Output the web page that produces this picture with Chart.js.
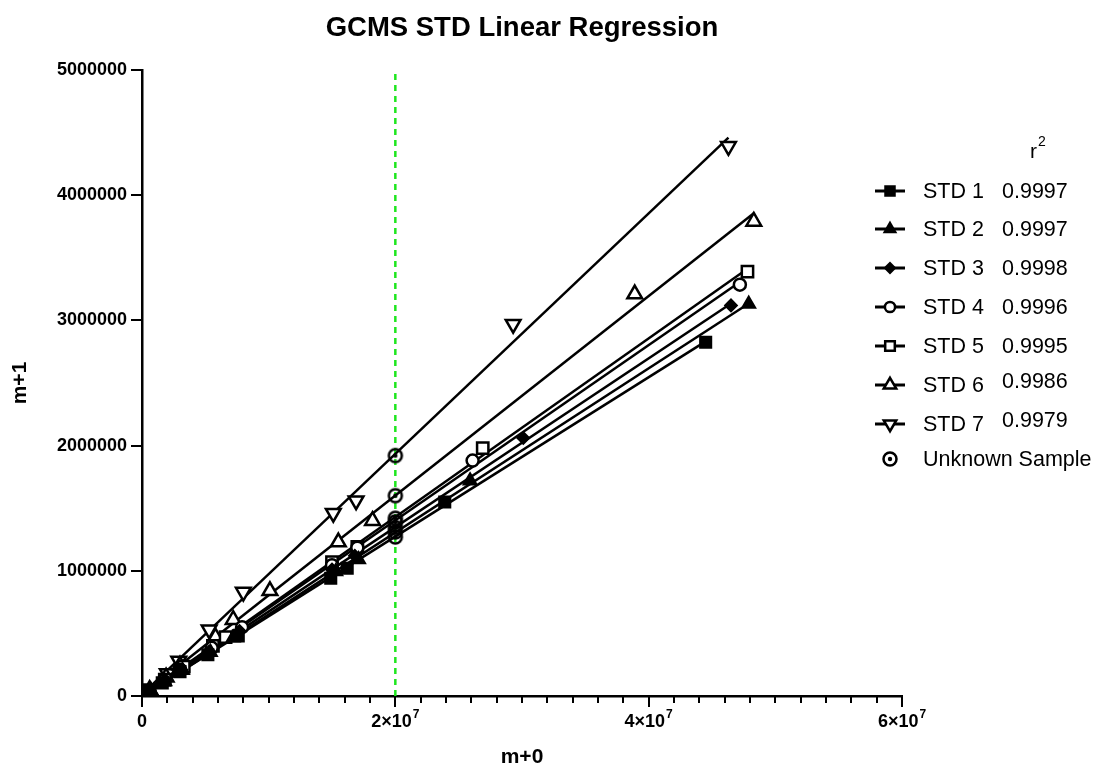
<!DOCTYPE html>
<html>
<head>
<meta charset="utf-8">
<script src="https://cdn.jsdelivr.net/npm/chart.js@4.4.1/dist/chart.umd.min.js"></script>
<style>
html, body { margin: 0; padding: 0; background: #fff; }
</style>
</head>
<body>
<canvas id="myChart" width="1112" height="771"></canvas>
<script>
// values
const seriesNames = ['STD 1', 'STD 2', 'STD 3', 'STD 4', 'STD 5', 'STD 6', 'STD 7']
const rSquared = ['0.9997', '0.9997', '0.9998', '0.9996', '0.9995', '0.9986', '0.9979']

const std1X = [0.6e6, 1.6e6, 3.0e6, 5.2e6, 7.6e6, 1.49e7, 1.62e7, 2.39e7, 4.45e7]
const std1Y = [40000, 105000, 195000, 330000, 480000, 940000, 1020000, 1550000, 2825000]
const std2X = [0.7e6, 1.8e6, 3.2e6, 5.4e6, 7.2e6, 1.53e7, 1.71e7, 2.59e7, 4.79e7]
const std2Y = [45000, 115000, 205000, 350000, 465000, 995000, 1090000, 1720000, 3130000]
const std3X = [0.6e6, 1.7e6, 3.1e6, 5.3e6, 7.7e6, 1.5e7, 1.68e7, 3.01e7, 4.65e7]
const std3Y = [40000, 115000, 210000, 355000, 520000, 1010000, 1120000, 2060000, 3120000]
const std4X = [0.5e6, 1.7e6, 3.0e6, 5.5e6, 7.9e6, 1.5e7, 1.7e7, 2.61e7, 4.72e7]
const std4Y = [35000, 120000, 210000, 385000, 550000, 1045000, 1185000, 1880000, 3285000]
const std5X = [0.6e6, 1.8e6, 3.3e6, 5.6e6, 6.6e6, 1.5e7, 1.7e7, 2.69e7, 4.78e7]
const std5Y = [45000, 130000, 235000, 400000, 470000, 1070000, 1190000, 1980000, 3390000]
const std6X = [0.6e6, 1.9e6, 3.0e6, 5.8e6, 7.2e6, 1.01e7, 1.55e7, 1.82e7, 3.89e7, 4.83e7]
const std6Y = [50000, 150000, 245000, 470000, 610000, 840000, 1230000, 1400000, 3210000, 3790000]
const std7X = [0.6e6, 2.0e6, 2.9e6, 5.3e6, 8.0e6, 1.51e7, 1.69e7, 2.93e7, 4.63e7]
const std7Y = [55000, 180000, 280000, 530000, 830000, 1460000, 1560000, 2970000, 4390000]

const unknownX = 2e7
const unknownY = [1270000, 1310000, 1345000, 1390000, 1420000, 1600000, 1920000]

const xTickValues = [0, 2e7, 4e7, 6e7]
const xTickBase = ['0', '2×10', '4×10', '6×10']
const xTickExp = ['', '7', '7', '7']
const xMinorStep = 2e6
const yTickValues = [0, 1000000, 2000000, 3000000, 4000000, 5000000]

const allX = [std1X, std2X, std3X, std4X, std5X, std6X, std7X]
const allY = [std1Y, std2Y, std3Y, std4Y, std5Y, std6Y, std7Y]

// marker look per series
const markerStyle = [
	{ pointStyle: 'rect', radius: 7.5, fill: '#000', rotation: 0 },
	{ pointStyle: 'triangle', radius: 7, fill: '#000', rotation: 0 },
	{ pointStyle: 'rectRot', radius: 5.5, fill: '#000', rotation: 0 },
	{ pointStyle: 'circle', radius: 6, fill: '#fff', rotation: 0 },
	{ pointStyle: 'rect', radius: 8, fill: '#fff', rotation: 0 },
	{ pointStyle: 'triangle', radius: 8.5, fill: '#fff', rotation: 0 },
	{ pointStyle: 'triangle', radius: 8.5, fill: '#fff', rotation: 180 },
]

const FONT = '"Liberation Sans", Arial, sans-serif'

function fitLine(xs, ys) {
	const n = xs.length
	const mx = xs.reduce((a, b) => a + b, 0) / n
	const my = ys.reduce((a, b) => a + b, 0) / n
	let sxy = 0, sxx = 0
	for (let i = 0; i < n; i++) {
		sxy += (xs[i] - mx) * (ys[i] - my)
		sxx += (xs[i] - mx) * (xs[i] - mx)
	}
	const slope = sxy / sxx
	return { slope, intercept: my - slope * mx }
}

// bullseye marker for the unknown samples
function makeBullseye(r) {
	const c = document.createElement('canvas')
	const s = r * 2 + 5
	c.width = s; c.height = s
	const g = c.getContext('2d')
	g.strokeStyle = '#000'
	g.lineWidth = 2.5
	g.beginPath(); g.arc(s / 2, s / 2, r, 0, Math.PI * 2); g.stroke()
	g.fillStyle = '#000'
	g.beginPath(); g.arc(s / 2, s / 2, 2.2, 0, Math.PI * 2); g.fill()
	return c
}
const bullseye = makeBullseye(6.5)

let datasets = []

// markers
allX.forEach((xs, i) => {
	const m = markerStyle[i]
	datasets.push({
		label: seriesNames[i],
		data: xs.map((x, j) => ({ x: x, y: allY[i][j] })),
		showLine: false,
		pointStyle: m.pointStyle,
		pointRotation: m.rotation,
		pointRadius: m.radius,
		pointBackgroundColor: m.fill,
		pointBorderColor: '#000',
		pointBorderWidth: 2.5,
		order: 1
	})
})

// regression lines
allX.forEach((xs, i) => {
	const f = fitLine(xs, allY[i])
	const x0 = Math.min(...xs), x1 = Math.max(...xs)
	datasets.push({
		label: seriesNames[i] + ' fit',
		data: [{ x: x0, y: f.intercept + f.slope * x0 }, { x: x1, y: f.intercept + f.slope * x1 }],
		showLine: true,
		borderColor: '#000',
		borderWidth: 2.5,
		pointRadius: 0,
		order: 2
	})
})

// unknown samples
datasets.push({
	label: 'Unknown Sample',
	data: unknownY.map(y => ({ x: unknownX, y: y })),
	showLine: false,
	pointStyle: bullseye,
	order: 0
})

// green reference line at the unknown x
datasets.push({
	label: 'ref',
	data: [{ x: unknownX, y: yTickValues[0] }, { x: unknownX, y: yTickValues[yTickValues.length - 1] }],
	showLine: true,
	borderColor: '#1ee61e',
	borderWidth: 2.5,
	borderDash: [6, 5],
	pointRadius: 0,
	order: 3
})

const decor = {
	id: 'decor',
	afterDraw(chart) {
		const ctx = chart.ctx
		const xs = chart.scales.x, ys = chart.scales.y
		const area = chart.chartArea
		ctx.save()
		ctx.strokeStyle = '#000'
		ctx.fillStyle = '#000'
		ctx.lineWidth = 2

		// x ticks, minor every 2e6
		const nSteps = Math.round((xs.max - xs.min) / xMinorStep)
		for (let i = 0; i <= nSteps; i++) {
			const v = xs.min + i * xMinorStep
			const px = Math.round(xs.getPixelForValue(v))
			const len = xTickValues.includes(v) ? 11 : 7
			ctx.beginPath()
			ctx.moveTo(px, area.bottom)
			ctx.lineTo(px, area.bottom + len)
			ctx.stroke()
		}
		// y ticks
		yTickValues.forEach(v => {
			const py = Math.round(ys.getPixelForValue(v))
			ctx.beginPath()
			ctx.moveTo(area.left - 11, py)
			ctx.lineTo(area.left, py)
			ctx.stroke()
		})

		// x tick labels with superscript exponent
		ctx.textBaseline = 'alphabetic'
		xTickValues.forEach((v, i) => {
			const px = xs.getPixelForValue(v)
			ctx.font = 'bold 18px ' + FONT
			const wb = ctx.measureText(xTickBase[i]).width
			ctx.font = 'bold 12px ' + FONT
			const we = xTickExp[i] ? ctx.measureText(xTickExp[i]).width + 1 : 0
			const left = px - (wb + we) / 2
			ctx.textAlign = 'left'
			ctx.font = 'bold 18px ' + FONT
			ctx.fillText(xTickBase[i], left, 727)
			if (xTickExp[i]) {
				ctx.font = 'bold 12px ' + FONT
				ctx.fillText(xTickExp[i], left + wb + 1, 718)
			}
		})

		// title
		ctx.textAlign = 'center'
		ctx.textBaseline = 'middle'
		ctx.font = 'bold 27.5px ' + FONT
		ctx.fillText('GCMS STD Linear Regression', (area.left + area.right) / 2, 28)

		// axis titles
		ctx.font = 'bold 21px ' + FONT
		ctx.fillText('m+0', (area.left + area.right) / 2, 757)
		ctx.save()
		ctx.translate(20, (area.top + area.bottom) / 2)
		ctx.rotate(-Math.PI / 2)
		ctx.fillText('m+1', 0, 0)
		ctx.restore()

		// legend
		const rowY = [191, 229, 268, 307, 346, 385, 424]
		ctx.textAlign = 'left'
		ctx.font = '21px ' + FONT
		ctx.fillText('r', 1030, 152)
		ctx.font = '14px ' + FONT
		ctx.fillText('2', 1038, 142)
		ctx.font = '21.5px ' + FONT
		seriesNames.forEach((name, i) => {
			const y = rowY[i]
			ctx.lineWidth = 3
			ctx.strokeStyle = '#000'
			ctx.beginPath()
			ctx.moveTo(875, y)
			ctx.lineTo(905, y)
			ctx.stroke()
			const m = markerStyle[i]
			ctx.fillStyle = m.fill
			ctx.lineWidth = 2.5
			Chart.helpers.drawPoint(ctx, {
				pointStyle: m.pointStyle,
				rotation: m.rotation,
				radius: m.radius * 0.85,
				borderWidth: 2.5
			}, 890, y)
			ctx.fillStyle = '#000'
			ctx.fillText(name, 923, y + 1)
			ctx.fillText(rSquared[i], 1002, i >= 5 ? y - 3 : y + 1)
		})
		ctx.drawImage(bullseye, 890 - bullseye.width / 2, 459 - bullseye.height / 2)
		ctx.fillText('Unknown Sample', 923, 460)
		ctx.restore()
	}
}

new Chart('myChart', {
	type: 'scatter',
	data: { datasets: datasets },
	options: {
		responsive: false,
		animation: false,
		events: [],
		layout: { padding: { top: 70, right: 210, left: 0, bottom: 0 } },
		plugins: {
			legend: { display: false },
			title: { display: false },
			tooltip: { enabled: false }
		},
		scales: {
			x: {
				type: 'linear',
				min: 0,
				max: 6e7,
				afterBuildTicks: s => { s.ticks = xTickValues.map(v => ({ value: v })) },
				afterFit: s => { s.height = 75 },
				ticks: { display: false },
				grid: { display: false, drawTicks: false },
				border: { display: true, color: '#000', width: 2.5 }
			},
			y: {
				type: 'linear',
				min: 0,
				max: 5000000,
				afterBuildTicks: s => { s.ticks = yTickValues.map(v => ({ value: v })) },
				afterFit: s => { s.width = 142 },
				ticks: {
					color: '#000',
					font: { family: FONT, size: 18, weight: 'bold' },
					padding: 15,
					autoSkip: false,
					callback: (v) => String(v)
				},
				grid: { display: false, drawTicks: false },
				border: { display: true, color: '#000', width: 2.5 }
			}
		}
	},
	plugins: [decor]
})
</script>
</body>
</html>
